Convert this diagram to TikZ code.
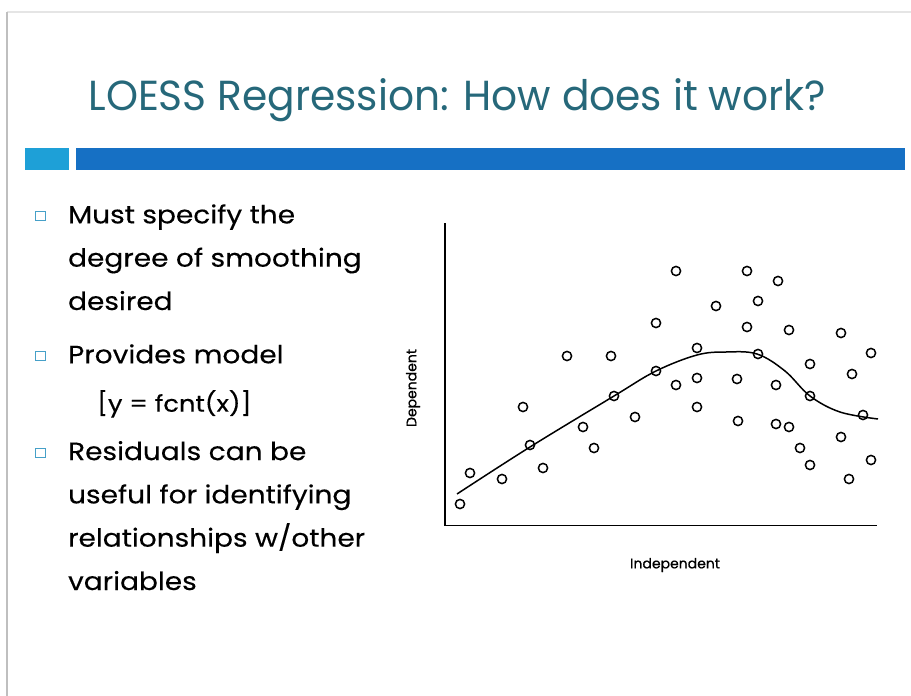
\documentclass[tikz,border=0pt]{standalone}
\usepackage{fontspec}
\setmainfont{Poppins}
\newfontfamily\titlefont[FakeStretch=0.97]{Poppins}
\newfontfamily\bodyfont[FakeStretch=1.12, FakeBold=0.25]{Poppins}
\newfontfamily\labfont[FakeBold=0.8]{Poppins}
\definecolor{titleteal}{RGB}{38,104,122}
\definecolor{barblue}{RGB}{22,112,196}
\definecolor{barlight}{RGB}{30,160,215}
\definecolor{boxblue}{RGB}{70,160,200}
\begin{document}
\begin{tikzpicture}[x=1pt, y=-1pt, thick,
    pt/.style={circle, draw, line width=1.5pt, inner sep=0pt, minimum size=9.2pt},
    item/.style={anchor=base west, align=left, inner sep=0pt, font=\bodyfont\fontsize{25}{43.3}\selectfont},
    sqbox/.style={draw=boxblue, line width=1.3pt, minimum size=9.5pt, inner sep=0pt},
    axlabel/.style={inner sep=0pt, font=\labfont\fontsize{14}{16}\selectfont}]
  \useasboundingbox (0,0) rectangle (911,696);
  % slide edges
  \draw[gray!20, line width=1.5pt] (7,12) -- (911,12);
  \draw[gray!50, line width=2.5pt] (7,696) -- (7,12);
  % title and bar
  \node [anchor=base west, inner sep=0pt, text=titleteal, font=\titlefont\fontsize{42}{46}\selectfont] (title) at (88,110) {LOESS Regression: How does it work?};
  \node [fill=barlight, anchor=north west, inner sep=0pt, minimum width=44pt, minimum height=22pt] (sqbar) at (25,148) {};
  \node [fill=barblue, anchor=north west, inner sep=0pt, minimum width=829pt, minimum height=22pt] (longbar) at (76,148) {};
  % bullets (text nodes sit on the baseline of their last line)
  \node [sqbox] (b1) at (40.5,216) {};
  \node [sqbox] (b2) at (40.5,356) {};
  \node [sqbox] (b3) at (40.5,453) {};
  \node [item] (t1) at (67.7,310) {Must specify the\\degree of smoothing\\desired};
  \node [item] (t2) at (67.7,363.3) {Provides model};
  \node [item, font=\bodyfont\fontsize{23}{43.3}\selectfont] (t2b) at (96.7,411.7) {[y = fcnt(x)]};
  \node [item] (t3) at (67.7,590) {Residuals can be\\useful for identifying\\relationships w/other\\variables};
  % plot
  \coordinate (ytop) at (445,223);
  \coordinate (orig) at (445,525.5);
  \coordinate (xend) at (877,525.5);
  \draw [line width=1.8pt] (ytop) -- (orig) -- (xend);
  \node [axlabel, rotate=90] (ylab) at (413,388) {Dependent};
  \node [axlabel] (xlab) at (675,565) {Independent};
  \foreach \px/\py [count=\i] in {460/504,470/473,502/479,523/407,530/445,543/468,567/356,583/427,594/448,611/356,614/396,635/417,656/323,656/371,676/271,676/385,697/348,697/378,697/407,716/306,737/379,738/421,747/271,747/327,758/301,758/354,776/385,776/424,778/281,789/330,789/427,800/448,810/364,810/396,810/465,841/333,841/437,849/479,852/374,863/415,871/353,871/460}
    \node [pt] (p\i) at (\px,\py) {};
  \draw [line width=1.5pt] plot[smooth, tension=0.6] coordinates {(457,494) (530,447) (614,396) (656,371) (697,355) (726,352) (757,354) (785,371) (810,396) (840,412) (878,419)};
\end{tikzpicture}
\end{document}
